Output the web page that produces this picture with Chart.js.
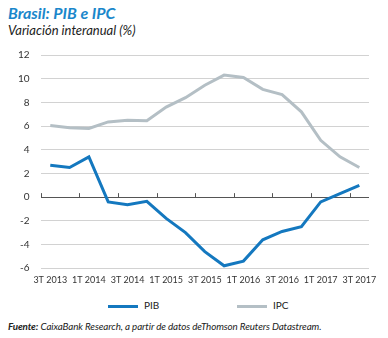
<!DOCTYPE html>
<html>
<head>
<meta charset="utf-8">
<script src="https://cdn.jsdelivr.net/npm/chart.js@4.4.1/dist/chart.umd.min.js"></script>
<style>
  body { margin: 0; background: #fff; font-family: Lato, sans-serif; }
  #wrap { position: relative; width: 388px; height: 338px; overflow: hidden; }
  #title { position: absolute; left: 8px; top: 3px; font: italic 700 16px Lato; color: #1a87cb; }
  #subtitle { position: absolute; left: 8px; top: 22px; font: italic 13px Lato; color: #222; }
  #chart { position: absolute; left: 0; top: 38px; }
  .leg { position: absolute; top: 299px; font: 10px Lato; color: #222; }
  .leg span { display: inline-block; width: 30px; height: 3px; vertical-align: middle; margin-right: 6px; }
  #note { position: absolute; left: 8px; top: 320px; font: italic 9.8px Lato; color: #222; letter-spacing: -0.1px; }
</style>
</head>
<body>
<div id="wrap">
  <div id="title">Brasil: PIB e IPC</div>
  <div id="subtitle">Variación interanual (%)</div>
  <canvas id="chart" width="388" height="253"></canvas>
  <div class="leg" style="left:108px"><span style="background:#1478bf"></span>PIB</div>
  <div class="leg" style="left:237px"><span style="background:#b4bfc5"></span>IPC</div>
  <div id="note"><b>Fuente:</b> CaixaBank Research, a partir de datos deThomson Reuters Datastream.</div>
</div>
<script>
'use strict';

// Data

let quarters = ['3T 2013', '4T 2013', '1T 2014', '2T 2014', '3T 2014', '4T 2014',
  '1T 2015', '2T 2015', '3T 2015', '4T 2015', '1T 2016', '2T 2016',
  '3T 2016', '4T 2016', '1T 2017', '2T 2017', '3T 2017'];

let pib = [2.7, 2.5, 3.4, -0.4, -0.65, -0.35, -1.8, -3.0, -4.6, -5.8, -5.4,
  -3.6, -2.9, -2.5, -0.4, 0.3, 1.0];

let ipc = [6.05, 5.85, 5.8, 6.35, 6.5, 6.45, 7.6, 8.4, 9.45, 10.3, 10.1,
  9.1, 8.65, 7.2, 4.8, 3.4, 2.5];

let yTicks = [-6, -4, -2, 0, 2, 4, 6, 8, 10, 12];

// Tick marks on the zero line, every two quarters

let zeroTicks = {
  id: 'zeroTicks',
  afterDatasetsDraw(chart) {
    let x = chart.scales.x;
    let y0 = chart.scales.y.getPixelForValue(0);
    let step = x.width / quarters.length;
    let ctx = chart.ctx;
    ctx.save();
    ctx.strokeStyle = '#555';
    ctx.lineWidth = 1;
    ctx.beginPath();
    for (let i = 0; i <= quarters.length; i += 2) {
      let px = Math.round(x.left + i * step) + 0.5;
      ctx.moveTo(px, y0);
      ctx.lineTo(px, y0 - 4);
    }
    ctx.stroke();
    ctx.restore();
  }
};

let ctx = document.getElementById('chart').getContext('2d');
let myChart = new Chart(ctx, {
  type: 'line',
  data: {
    labels: quarters,
    datasets: [{
      label: 'IPC',
      data: ipc,
      borderColor: '#b4bfc5',
      backgroundColor: '#b4bfc5',
      borderWidth: 3,
      pointRadius: 0,
      tension: 0
    },
    {
      label: 'PIB',
      data: pib,
      borderColor: '#1478bf',
      backgroundColor: '#1478bf',
      borderWidth: 3,
      pointRadius: 0,
      tension: 0
    }]
  },
  options: {
    responsive: false,
    animation: false,
    layout: { padding: { left: 7, right: 19, top: 11, bottom: 0 } },
    plugins: {
      legend: { display: false },
      tooltip: { enabled: false }
    },
    scales: {
      x: {
        offset: true,
        grid: { display: false, drawTicks: false },
        border: { display: false },
        ticks: {
          autoSkip: false,
          maxRotation: 0,
          padding: 6,
          color: '#333',
          font: { family: 'Lato', size: 9 },
          callback: function (value, index) {
            return index % 2 === 0 ? quarters[index] : '';
          }
        }
      },
      y: {
        min: yTicks[0],
        max: yTicks[yTicks.length - 1],
        border: { display: false },
        grid: {
          drawTicks: false,
          color: function (c) {
            return c.tick && c.tick.value === 0 ? '#555' : '#d2d2d2';
          }
        },
        afterBuildTicks: function (axis) {
          axis.ticks = yTicks.map(v => ({ value: v }));
        },
        ticks: {
          padding: 11,
          color: '#333',
          font: { family: 'Lato', size: 10 }
        }
      }
    }
  },
  plugins: [zeroTicks]
});
</script>
</body>
</html>
